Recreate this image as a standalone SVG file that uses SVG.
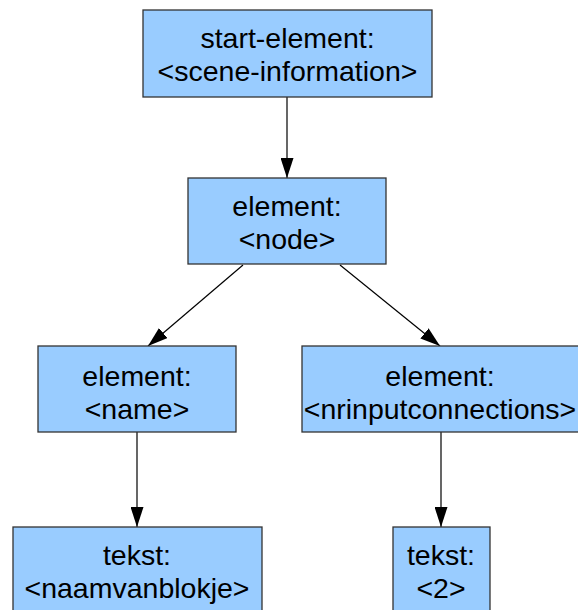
<svg xmlns="http://www.w3.org/2000/svg" width="578" height="610" viewBox="0 0 578 610">
<defs>
<style>
.box{fill:#99ccff;stroke:#333333;stroke-width:1.3}
.t{font-family:"Liberation Sans",Arial,sans-serif;font-size:28.5px;fill:#000;text-anchor:middle}
.c{stroke:#000;stroke-width:1.2;fill:none;marker-end:url(#ah)}
</style>
<marker id="ah" markerWidth="20" markerHeight="13" refX="20" refY="6.5" viewBox="0 0 20 13" orient="auto" markerUnits="userSpaceOnUse">
<path d="M0,0 L20,6.5 L0,13 Z" fill="#000"/>
</marker>
</defs>
<g id="connectors">
<line class="c" x1="287" y1="97" x2="287" y2="178"/>
<line class="c" x1="243" y1="265" x2="148" y2="346"/>
<line class="c" x1="340" y1="265" x2="440" y2="346"/>
<line class="c" x1="137" y1="432" x2="137" y2="527"/>
<line class="c" x1="441" y1="432" x2="441" y2="527"/>
</g>
<g id="n1">
<rect class="box" x="143" y="10" width="289" height="87"/>
<text class="t" x="287.5" y="48">start-element:</text>
<text class="t" x="287.5" y="81">&lt;scene-information&gt;</text>
</g>
<g id="n2">
<rect class="box" x="188" y="178" width="198" height="86"/>
<text class="t" x="287" y="216">element:</text>
<text class="t" x="287" y="249">&lt;node&gt;</text>
</g>
<g id="n3">
<rect class="box" x="38" y="346" width="198" height="86"/>
<text class="t" x="137" y="386">element:</text>
<text class="t" x="137" y="419">&lt;name&gt;</text>
</g>
<g id="n4">
<rect class="box" x="302" y="346" width="278" height="86"/>
<text class="t" x="440" y="386">element:</text>
<text class="t" x="440" y="419">&lt;nrinputconnections&gt;</text>
</g>
<g id="n5">
<rect class="box" x="13" y="527" width="249" height="90"/>
<text class="t" x="137" y="565">tekst:</text>
<text class="t" x="137" y="598">&lt;naamvanblokje&gt;</text>
</g>
<g id="n6">
<rect class="box" x="393" y="527" width="97" height="90"/>
<text class="t" x="441" y="565">tekst:</text>
<text class="t" x="441" y="598">&lt;2&gt;</text>
</g>
</svg>
